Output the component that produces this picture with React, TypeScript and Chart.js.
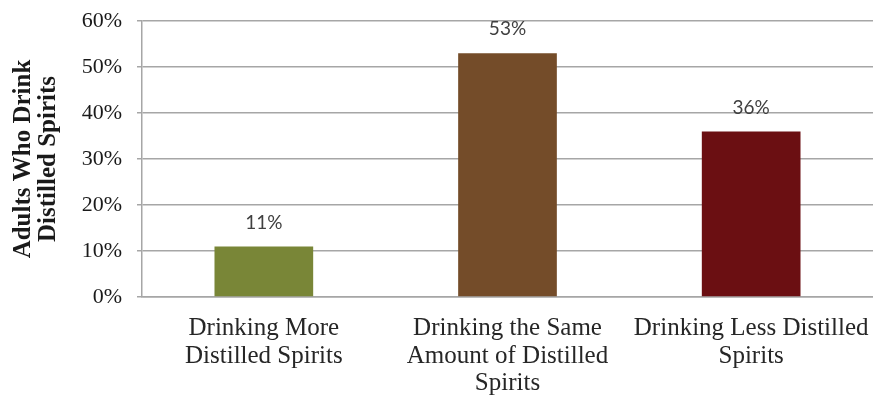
import React, { useEffect, useRef } from "react";
import { Chart, registerables } from "chart.js";

Chart.register(...registerables);

const categories: string[][] = [
  ["Drinking More", "Distilled Spirits"],
  ["Drinking the Same", "Amount of Distilled", "Spirits"],
  ["Drinking Less Distilled", "Spirits"],
];
const values: number[] = [11, 53, 36];
const barColors: string[] = ["#798637", "#744C29", "#6B0F12"];
const yTitle: string[] = ["Adults Who Drink", "Distilled Spirits"];
const yMax = 60;
const yStep = 10;

const valueLabels = {
  id: "valueLabels",
  afterDatasetsDraw(chart: any) {
    const ctx = chart.ctx;
    const meta = chart.getDatasetMeta(0);
    ctx.save();
    ctx.font = "19px Lato, 'Liberation Sans', sans-serif";
    ctx.fillStyle = "#404040";
    ctx.textAlign = "center";
    ctx.textBaseline = "middle";
    meta.data.forEach((bar: any, i: number) => {
      ctx.fillText(values[i] + "%", bar.x, bar.y - 24);
    });
    ctx.restore();
  },
};

export default function App() {
  const ref = useRef<HTMLCanvasElement>(null);
  useEffect(() => {
    if (!ref.current) return;
    const chart = new Chart(ref.current, {
      type: "bar",
      data: {
        labels: categories,
        datasets: [
          {
            data: values,
            backgroundColor: barColors,
            categoryPercentage: 1,
            barPercentage: 0.405,
          },
        ],
      },
      options: {
        animation: false,
        responsive: false,
        devicePixelRatio: 1,
        layout: { padding: { top: 21, right: 0, left: 0, bottom: 0 } },
        plugins: { legend: { display: false }, tooltip: { enabled: false } },
        scales: {
          x: {
            grid: { display: false, drawTicks: false },
            border: { display: true, color: "#A6A6A6", width: 1.5 },
            ticks: {
              color: "#262626",
              padding: 18,
              maxRotation: 0,
              autoSkip: false,
              font: { family: "'Liberation Serif', serif", size: 25, lineHeight: 1.1 },
            },
            afterFit: (s: any) => {
              s.height = 100;
              s.paddingLeft = 0;
              s.paddingRight = 0;
            },
          },
          y: {
            min: 0,
            max: yMax,
            grid: { color: "#A6A6A6", lineWidth: 1.5, tickLength: 5, drawTicks: true },
            border: { display: true, color: "#A6A6A6", width: 1.5 },
            ticks: {
              stepSize: yStep,
              padding: 15,
              color: "#1a1a1a",
              font: { family: "'Liberation Serif', serif", size: 22 },
              callback: (v: any) => v + "%",
            },
            title: {
              display: true,
              text: yTitle,
              color: "#1a1a1a",
              padding: { top: 11, bottom: 0 },
              font: { family: "'Liberation Serif', serif", size: 25, weight: "bold", lineHeight: 1.0 },
            },
            afterFit: (s: any) => {
              s.width = 142;
              s.paddingTop = 0;
              s.paddingBottom = 0;
            },
          },
        },
      },
      plugins: [valueLabels],
    });
    return () => chart.destroy();
  }, []);
  return (
    <div style={{ position: "absolute", left: 0, top: 0, width: 873, height: 397, background: "#fff" }}>
      <canvas ref={ref} width={873} height={397} style={{ width: 873, height: 397 }} />
    </div>
  );
}
